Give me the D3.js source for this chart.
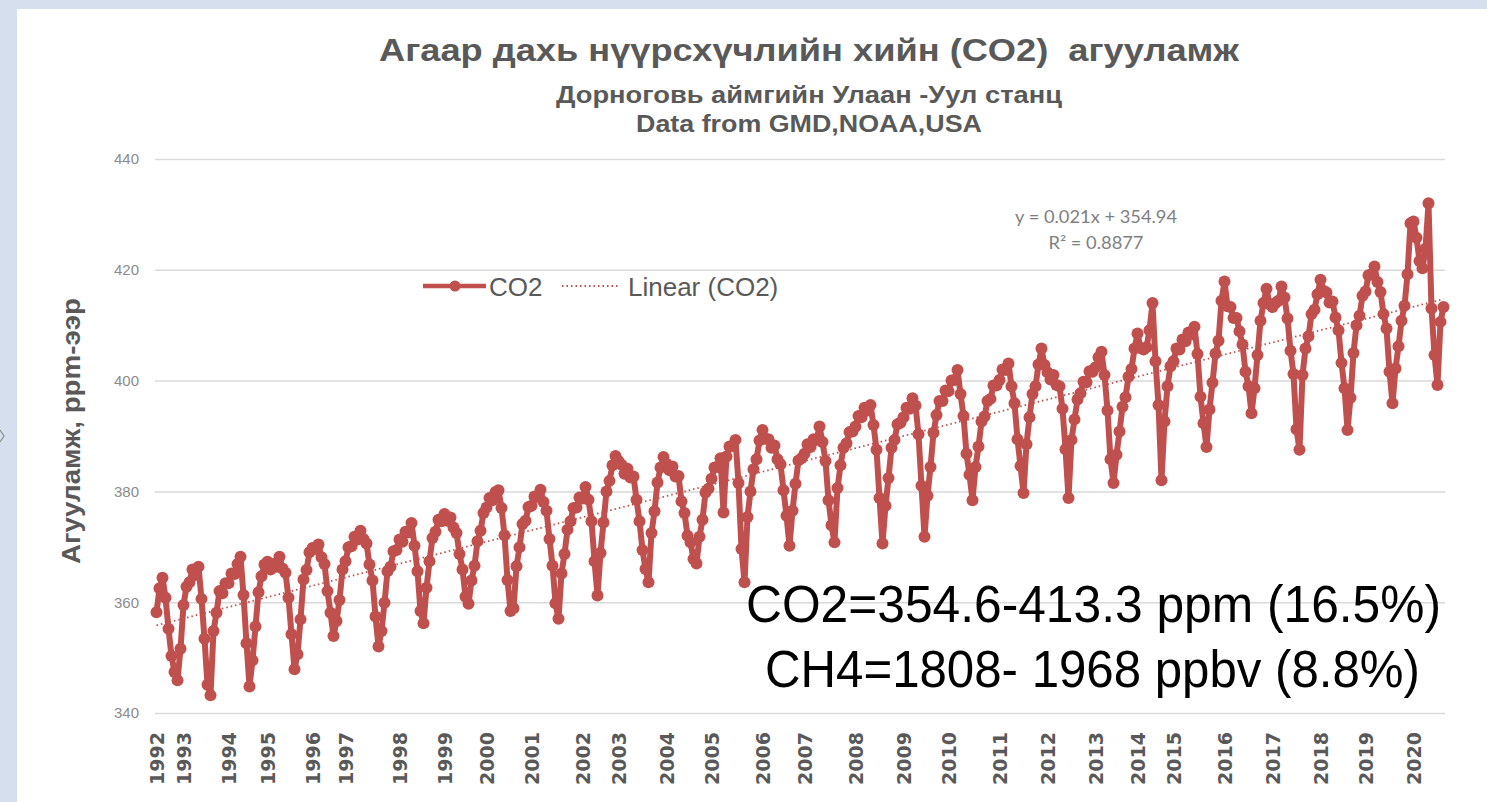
<!DOCTYPE html>
<html><head><meta charset="utf-8">
<script src="https://cdn.jsdelivr.net/npm/d3@7"></script>
<style>html,body{margin:0;padding:0;background:#fff;overflow:hidden}</style>
</head><body>
<svg id="chart" width="1487" height="802"></svg>
<script>
// ---------------- DATA ----------------
const years = [1992,1993,1994,1995,1996,1997,1998,1999,2000,2001,2002,2003,2004,2005,2006,2007,2008,2009,2010,2011,2012,2013,2014,2015,2016,2017,2018,2019,2020];
const pointsPerYear = [9,15,13,15,11,18,15,14,15,17,12,16,15,17,14,17,16,15,17,16,16,14,12,17,16,16,15,16,11];
const co2Values = [
// 1992
358.2,362.5,364.4,360.8,355.2,350.3,347.4,345.9,351.6,
// 1993
359.5,362.8,363.6,365.9,364.9,366.4,360.6,353.4,345.1,343.2,354.8,358.1,362.0,361.6,363.4,
// 1994
363.4,365.2,365.1,366.9,368.2,361.3,352.6,344.8,349.5,355.6,361.8,364.7,366.8,
// 1995
367.3,365.9,366.9,366.4,368.2,366.1,365.3,360.8,354.2,347.9,350.6,356.9,364.1,365.8,369.0,
// 1996
369.8,369.6,370.4,368.1,366.9,362.0,358.1,353.9,356.6,360.4,365.9,
// 1997
367.4,369.9,370.1,371.8,371.3,372.9,371.4,370.6,366.8,363.9,357.4,352.0,354.8,359.9,365.6,366.4,369.2,369.4,
// 1998
371.3,370.9,372.7,372.6,374.3,370.2,365.6,358.4,356.2,362.6,367.4,371.6,372.7,374.9,374.6,
// 1999
375.9,374.7,375.3,373.5,372.5,368.7,365.9,361.0,359.7,363.9,366.6,371.0,372.9,376.1,
// 2000
377.1,378.8,378.4,379.9,380.2,377.0,372.1,364.0,358.4,358.9,366.5,369.9,374.1,374.7,377.2,
// 2001
377.4,379.1,379.0,380.3,378.1,376.5,371.4,366.6,359.8,357.0,365.2,368.7,373.1,374.6,377.0,377.1,378.9,
// 2002
378.7,380.8,378.5,374.6,367.4,361.2,368.9,374.4,380.0,381.9,384.7,386.4,
// 2003
385.5,384.8,383.2,384.1,382.5,382.7,378.5,374.6,369.4,366.0,363.6,372.5,376.4,381.6,384.3,386.2,
// 2004
385.0,383.8,384.5,382.7,382.8,378.2,376.1,372.0,370.8,367.8,367.0,371.8,374.9,379.8,380.5,
// 2005
382.3,384.3,384.4,386.0,376.2,386.3,388.1,388.2,389.3,381.5,369.6,363.6,375.4,380.0,384.0,385.8,389.2,
// 2006
391.1,389.5,389.4,387.9,388.3,385.8,384.9,380.2,375.6,370.2,376.5,381.4,385.6,386.0,
// 2007
386.8,388.5,388.0,389.4,389.3,391.7,388.9,385.5,378.4,373.9,370.8,380.6,384.7,387.9,388.7,390.7,390.8,
// 2008
391.7,393.6,393.4,395.1,394.6,395.6,392.0,387.5,378.8,370.6,377.4,382.4,387.9,389.3,392.1,392.4,
// 2009
393.4,395.1,394.9,396.8,395.5,390.3,381.0,371.8,379.2,384.4,390.6,393.8,396.3,396.3,398.2,
// 2010
398.1,400.0,400.1,401.9,397.6,393.6,386.8,383.0,378.4,384.4,388.1,392.6,393.5,396.3,396.7,399.1,399.1,
// 2011
400.1,402.0,401.9,403.1,399.0,395.9,389.4,384.6,379.7,388.5,393.4,397.6,399.0,402.9,405.8,402.8,
// 2012
401.5,400.2,401.0,399.2,399.0,394.9,387.6,378.8,389.3,393.0,396.6,397.7,399.8,399.7,401.7,401.6,
// 2013
402.4,404.2,405.2,401.0,394.6,385.8,381.5,386.6,390.8,395.3,397.0,400.7,402.1,405.8,
// 2014
408.5,405.9,405.6,406.0,409.1,414.0,403.5,395.6,382.0,392.6,399.0,402.6,
// 2015
403.5,405.8,405.6,407.4,407.1,408.7,408.3,409.7,404.8,397.1,392.3,388.0,394.8,399.6,404.9,407.2,414.4,
// 2016
417.9,413.4,413.3,411.3,411.3,408.9,406.5,401.6,399.0,394.1,398.6,404.6,410.8,414.0,416.6,413.8,
// 2017
413.3,414.0,414.4,417.0,415.0,411.2,405.4,401.2,391.2,387.5,401.0,405.8,408.0,412.0,412.8,415.6,
// 2018
418.2,416.2,415.9,414.1,414.3,411.4,409.1,403.2,398.6,391.1,396.9,405.0,410.0,411.7,415.3,
// 2019
416.1,419.0,419.2,420.6,417.8,416.0,412.0,409.4,401.6,395.9,402.2,406.2,410.8,413.5,419.2,428.4,
// 2020
428.7,425.8,421.6,420.3,423.8,432.0,413.0,404.6,399.2,410.6,413.3
];
const yTicks = [340,360,380,400,420,440];
const titleLines = ["Агаар дахь нүүрсхүчлийн хийн (CO2)  агууламж","Дорноговь аймгийн Улаан -Уул станц","Data from GMD,NOAA,USA"];
const yAxisTitle = "Агууламж, ppm-ээр";
const legendLabels = ["CO2","Linear (CO2)"];
const trendText = ["y = 0.021x + 354.94","R² = 0.8877"];
const noteLines = ["CO2=354.6-413.3 ppm (16.5%)","CH4=1808- 1968 ppbv (8.8%)"];

// ---------------- CHART ----------------
const W = 1487, H = 802;
const RED = "#C0504D";
const svg = d3.select("#chart");
svg.append("rect").attr("width", W).attr("height", H).attr("fill", "#D5DFED");
svg.append("rect").attr("x", 17).attr("y", 9).attr("width", W - 17).attr("height", H - 9).attr("fill", "#fff");
svg.append("path").attr("d", "M0,430 L4,436 L0,442").attr("fill", "none").attr("stroke", "#8a8a8a").attr("stroke-width", 1.2);

const P = {left: 155, right: 1445, top: 159, bottom: 713};
const N = co2Values.length;
const x = d3.scaleLinear().domain([-0.5, N - 0.5]).range([P.left, P.right]);
const y = d3.scaleLinear().domain([340, 440]).range([P.bottom, P.top]);

// year start indices from counts
const yearStart = [];
pointsPerYear.reduce((acc, c) => { yearStart.push(acc); return acc + c; }, 0);

// y axis with gridlines
const gy = svg.append("g").attr("transform", `translate(${P.left},0)`)
  .call(d3.axisLeft(y).tickValues(yTicks).tickSize(-(P.right - P.left)).tickPadding(16));
gy.select(".domain").remove();
gy.selectAll(".tick line").attr("stroke", "#D9D9D9").attr("stroke-width", 1.5);
gy.selectAll(".tick text").attr("fill", "#8C8C8C").style("font-family", "'Liberation Sans', Arial, sans-serif").style("font-size", "15px");

// x axis
const gx = svg.append("g").attr("transform", `translate(0,${P.bottom})`)
  .call(d3.axisBottom(x).tickValues(yearStart).tickFormat((d, i) => years[i]).tickSize(0));
gx.select(".domain").remove();
gx.selectAll(".tick text")
  .attr("transform", "rotate(-90)").attr("text-anchor", "end")
  .attr("x", -19).attr("y", 0).attr("dy", "0.36em")
  .attr("fill", "#595959")
  .style("font-family", "'DejaVu Sans', Verdana, sans-serif").style("font-weight", "bold").style("font-size", "19px");

// series
const line = d3.line().x((d, i) => x(i)).y(d => y(d));
svg.append("path").datum(co2Values).attr("d", line).attr("fill", "none").attr("stroke", RED).attr("stroke-width", 6).attr("stroke-linejoin", "round");
svg.append("g").selectAll("circle").data(co2Values).join("circle")
  .attr("cx", (d, i) => x(i)).attr("cy", d => y(d)).attr("r", 6).attr("fill", RED);

// linear trend (least squares on point index)
const idx = d3.range(N);
const mx = d3.mean(idx), my = d3.mean(co2Values);
const slope = d3.sum(idx, i => (i - mx) * (co2Values[i] - my)) / d3.sum(idx, i => (i - mx) ** 2);
const intercept = my - slope * mx;
svg.append("line").attr("x1", x(0)).attr("x2", x(N - 1))
  .attr("y1", y(intercept)).attr("y2", y(intercept + slope * (N - 1)))
  .attr("stroke", RED).attr("stroke-width", 1.8).attr("stroke-dasharray", "1.5,3");

// titles
const tfont = "'Liberation Sans', Arial, sans-serif";
const tspec = [{y: 61, size: 32, len: 860}, {y: 103, size: 23, len: 506}, {y: 132, size: 23, len: 346}];
titleLines.forEach((t, i) => {
  svg.append("text").attr("x", 809).attr("y", tspec[i].y).attr("text-anchor", "middle")
    .attr("textLength", tspec[i].len).attr("lengthAdjust", "spacingAndGlyphs")
    .style("white-space", "pre")
    .style("font-family", tfont).style("font-weight", "bold").style("font-size", tspec[i].size + "px")
    .attr("fill", "#595959").text(t);
});

// y axis title
svg.append("text").attr("transform", "translate(80,431) rotate(-90)").attr("text-anchor", "middle")
  .attr("textLength", 266).attr("lengthAdjust", "spacingAndGlyphs")
  .style("font-family", tfont).style("font-weight", "bold").style("font-size", "25px")
  .attr("fill", "#595959").text(yAxisTitle);

// legend
const lg = svg.append("g");
lg.append("line").attr("x1", 423).attr("x2", 486).attr("y1", 286).attr("y2", 286).attr("stroke", RED).attr("stroke-width", 4.5);
lg.append("circle").attr("cx", 455).attr("cy", 286).attr("r", 5.5).attr("fill", RED);
lg.append("text").attr("x", 489).attr("y", 296).style("font-family", tfont).style("font-size", "26px").attr("fill", "#595959").text(legendLabels[0]);
lg.append("line").attr("x1", 562).attr("x2", 619).attr("y1", 286).attr("y2", 286).attr("stroke", RED).attr("stroke-width", 1.8).attr("stroke-dasharray", "1.5,3");
lg.append("text").attr("x", 628).attr("y", 296).style("font-family", tfont).style("font-size", "26px").attr("fill", "#595959").text(legendLabels[1]);

// trend equation
[[223, 162], [249, 95]].forEach((s, i) => {
  svg.append("text").attr("x", 1096).attr("y", s[0]).attr("text-anchor", "middle")
    .attr("textLength", s[1]).attr("lengthAdjust", "spacingAndGlyphs")
    .style("font-family", "Lato, 'Open Sans', sans-serif").style("font-size", "17px")
    .attr("fill", "#808080").text(trendText[i]);
});

// annotation
[[622, 746, 695], [687, 765, 655]].forEach((s, i) => {
  svg.append("text").attr("x", s[1]).attr("y", s[0])
    .attr("textLength", s[2]).attr("lengthAdjust", "spacingAndGlyphs")
    .style("font-family", tfont).style("font-size", "52px").attr("fill", "#000").text(noteLines[i]);
});
</script>
</body></html>
